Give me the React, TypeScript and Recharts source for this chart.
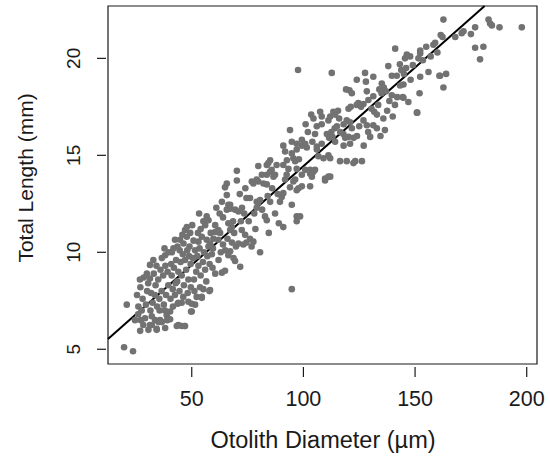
import React from 'react';
import {
  ScatterChart,
  Scatter,
  XAxis,
  YAxis,
  ReferenceLine,
  ReferenceArea,
} from 'recharts';

// [otolith diameter (um), total length (mm)]
const fish: [number, number][] = [
  // ~17-30 um
  [19.7, 5.1], [23.7, 4.9], [20.9, 7.3], [26.1, 7.2], [27.6, 7.0], [26.0, 6.8], [27.2, 6.5],
  [29.1, 6.6], [28.3, 6.25], [26.9, 5.95], [30.6, 6.0], [24.6, 6.5], [25.5, 7.8], [27.0, 8.2],
  [28.5, 8.7], [29.9, 8.9], [28.0, 7.6], [29.5, 7.3], [30.0, 8.0], [26.8, 8.6],
  // 30-40
  [32.1, 6.7], [33.6, 6.5], [35.1, 6.4], [31.3, 6.25], [34.3, 6.05], [38.1, 6.1], [35.8, 6.5],
  [32.1, 6.25], [34.3, 6.0], [36.6, 6.4], [38.8, 6.75], [31.3, 8.65], [32.8, 9.6], [31.3, 9.35],
  [36.6, 9.7], [38.1, 9.85], [33.0, 8.9], [31.5, 7.0], [32.5, 7.4], [33.5, 7.8], [34.5, 7.2],
  [35.5, 7.6], [36.5, 8.0], [37.5, 7.3], [38.5, 7.8], [39.5, 8.3], [33.8, 8.3], [35.0, 8.6],
  [36.0, 9.1], [37.2, 8.8], [38.2, 9.3], [39.2, 9.0], [34.2, 9.3], [37.8, 10.2], [39.6, 10.0],
  [31.8, 7.9], [30.5, 8.4], [35.6, 7.0], [38.0, 7.0], [39.0, 6.5],
  // 40-50
  [40.3, 6.55], [40.3, 6.95], [44.0, 6.25], [45.5, 6.2], [47.0, 6.2], [43.3, 6.2], [46.7, 6.2],
  [43.7, 7.35], [45.5, 7.4], [44.0, 7.4], [41.8, 10.2], [41.1, 10.0], [42.5, 10.65], [44.8, 10.65],
  [46.3, 10.45], [47.8, 11.3], [47.0, 11.15], [49.3, 11.0], [47.8, 10.8], [40.5, 7.6], [41.5, 8.1],
  [42.5, 7.8], [43.5, 8.5], [44.5, 8.0], [45.5, 8.8], [46.5, 8.3], [47.5, 9.1], [48.5, 8.6],
  [49.5, 9.4], [41.0, 8.8], [42.0, 9.2], [43.0, 9.6], [44.0, 9.0], [45.0, 9.5], [46.0, 9.9],
  [47.0, 9.6], [48.0, 10.1], [49.0, 10.3], [40.8, 9.4], [42.8, 8.4], [44.6, 10.1], [46.2, 7.7],
  [48.2, 7.9], [49.6, 8.2], [45.8, 10.9], [43.6, 10.3], [41.6, 7.2], [48.8, 9.8],
  // 50-60
  [48.5, 7.45], [50.0, 7.35], [51.5, 7.3], [50.0, 6.95], [49.7, 6.95], [53.7, 8.2], [55.2, 8.1],
  [54.5, 7.7], [57.9, 8.0], [54.5, 7.65], [56.7, 11.85], [57.5, 11.65], [56.0, 11.6], [55.2, 11.6],
  [56.7, 11.65], [56.0, 11.4], [54.5, 10.8], [56.7, 10.65], [53.0, 10.55], [58.2, 10.45],
  [59.7, 10.7], [58.2, 8.05], [51.0, 8.6], [52.0, 9.0], [53.0, 9.3], [54.0, 8.8], [55.0, 9.5],
  [56.0, 9.1], [57.0, 9.8], [58.0, 9.4], [59.0, 9.9], [50.5, 9.7], [51.5, 10.1], [52.5, 9.8],
  [53.5, 10.2], [55.5, 10.0], [57.5, 10.3], [59.5, 10.2], [50.8, 10.6], [52.8, 11.0], [54.0, 11.2],
  [58.5, 11.0], [51.2, 8.0], [52.2, 7.7], [56.5, 8.5], [59.3, 9.2], [60.5, 8.9], [50.2, 11.4],
  [53.3, 12.0],
  // 60-70
  [61.2, 11.05], [62.7, 11.0], [60.5, 11.4], [61.9, 11.15], [60.5, 11.05], [66.4, 11.5],
  [67.9, 11.3], [67.2, 11.15], [61.9, 10.65], [65.7, 12.2], [67.2, 12.45], [66.4, 12.45],
  [67.2, 12.25], [69.4, 12.2], [65.7, 13.55], [64.9, 13.35], [65.7, 12.95], [67.2, 10.05],
  [66.4, 9.85], [68.7, 9.7], [69.4, 9.55], [63.5, 8.95], [64.9, 9.05], [62.0, 9.6], [63.0, 10.0],
  [64.0, 10.4], [65.0, 10.1], [66.0, 10.7], [68.0, 10.5], [69.0, 11.0], [62.5, 12.0], [64.0, 11.8],
  [63.5, 12.6], [61.0, 12.3], [68.5, 11.6], [69.8, 10.3],
  // 70-80
  [70.9, 12.1], [70.2, 14.2], [70.2, 13.7], [71.7, 9.25], [72.4, 11.15], [73.9, 10.9], [76.1, 10.7],
  [77.6, 10.55], [70.9, 10.45], [73.1, 10.4], [74.5, 10.5], [76.8, 10.3], [72.5, 12.3], [73.5, 12.0],
  [74.5, 12.8], [75.5, 11.6], [76.1, 12.8], [77.6, 13.55], [76.9, 13.65], [79.1, 13.75], [79.1, 12.6],
  [79.7, 12.55], [79.1, 12.3], [78.0, 12.0], [79.8, 14.45], [79.8, 13.65], [71.5, 13.0],
  [74.0, 13.3], [78.5, 11.2], [72.0, 11.6],
  // 80-90
  [80.6, 12.7], [80.6, 10.0], [82.1, 13.55], [85.1, 12.6], [82.8, 11.85], [83.6, 11.65], [87.3, 12.0],
  [83.6, 14.5], [85.8, 14.25], [83.6, 14.0], [87.3, 14.0], [85.1, 14.75], [84.3, 14.6], [81.4, 14.0],
  [85.1, 14.15], [86.6, 13.9], [83.6, 13.5], [88.5, 13.0], [89.5, 12.6], [81.5, 12.2], [84.0, 12.9],
  [86.0, 13.3], [88.0, 14.5], [89.0, 11.5], [84.5, 11.0],
  // 90-100
  [91.0, 14.5], [90.3, 12.85], [91.0, 13.05], [94.8, 12.45], [91.0, 11.3], [97.0, 11.85], [97.0, 11.6],
  [97.8, 13.3], [97.0, 13.2], [94.0, 16.3], [99.3, 15.8], [97.0, 15.6], [99.3, 15.5], [94.8, 15.7],
  [97.0, 15.3], [91.0, 15.5], [91.8, 15.2], [94.8, 15.1], [92.6, 14.75], [95.5, 14.85], [96.3, 14.7],
  [97.0, 14.3], [93.3, 14.3], [99.3, 14.0], [91.8, 13.75], [95.5, 13.65], [96.3, 13.75], [94.0, 13.35],
  [99.3, 13.4], [94.8, 8.1], [98.5, 11.85], [97.6, 19.4], [92.5, 14.0], [98.0, 14.8],
  // 100-110
  [100.8, 15.6], [101.5, 15.4], [106.0, 15.3], [106.7, 14.95], [100.8, 14.25], [103.0, 14.25],
  [105.2, 14.25], [103.0, 13.4], [109.7, 13.8], [109.7, 13.7], [104.5, 14.15], [103.0, 14.05],
  [103.8, 13.9], [109.0, 14.85], [106.0, 15.45], [107.5, 17.25], [108.2, 17.0], [104.5, 16.9],
  [106.0, 16.5], [108.2, 16.6], [105.2, 16.1], [108.2, 15.6], [102.0, 16.2], [104.0, 15.7],
  [101.0, 16.6], [103.5, 17.1],
  // 110-120
  [111.2, 15.0], [112.0, 14.85], [111.2, 13.9], [112.0, 13.9], [116.4, 14.7], [119.4, 14.7],
  [112.7, 19.25], [113.4, 17.25], [114.2, 17.1], [112.0, 17.0], [111.2, 16.8], [110.5, 16.1],
  [111.5, 15.9], [112.5, 16.2], [113.0, 15.95], [117.9, 16.1], [118.7, 15.9], [114.2, 15.7],
  [119.4, 16.8], [115.0, 16.5], [116.0, 16.9], [114.0, 16.4], [116.5, 16.2], [118.0, 15.5],
  [119.1, 18.4], [120.2, 17.4], [120.2, 15.95], [118.0, 16.6], [115.5, 17.3],
  // 120-130
  [120.6, 18.35], [121.7, 18.2], [123.9, 18.9], [128.0, 18.8], [128.4, 18.3], [124.6, 17.7],
  [126.9, 17.65], [121.2, 17.5], [129.1, 17.85], [123.9, 17.6], [125.8, 17.5], [120.9, 16.7],
  [126.9, 16.8], [128.4, 16.55], [121.7, 16.4], [129.9, 15.95], [120.9, 15.6], [122.4, 14.6],
  [123.2, 14.7], [126.2, 14.7], [127.6, 19.25], [124.0, 16.0], [122.5, 15.9], [127.0, 15.5],
  [129.0, 16.2], [125.0, 16.5],
  // 130-140
  [131.3, 19.05], [135.1, 18.7], [131.3, 18.05], [134.0, 18.4], [135.0, 18.2], [136.0, 18.5],
  [137.0, 18.3], [131.7, 17.25], [132.9, 17.1], [131.3, 16.55], [135.8, 16.9], [132.9, 16.4],
  [138.0, 19.6], [139.6, 19.1], [139.6, 18.1], [140.0, 17.0], [133.5, 17.6], [137.5, 17.3],
  [134.5, 16.0], [136.5, 16.3], [138.5, 17.8], [130.5, 17.4],
  // 140-150
  [141.1, 20.5], [141.8, 19.1], [143.3, 18.6], [144.5, 18.0], [147.0, 17.75], [146.3, 20.2],
  [147.8, 20.1], [145.5, 20.0], [143.2, 19.7], [143.8, 19.4], [145.0, 19.2], [144.8, 18.65],
  [144.8, 17.97], [149.0, 19.65], [150.8, 17.2], [142.0, 18.0], [148.0, 18.9], [146.0, 19.5],
  [141.0, 17.6],
  // 150-165
  [152.3, 20.25], [151.5, 20.0], [153.5, 19.9], [152.3, 19.05], [152.0, 18.2], [151.0, 17.2],
  [152.3, 20.4], [158.2, 20.7], [159.0, 20.8], [160.0, 20.3], [161.2, 19.1], [163.9, 19.2],
  [160.9, 19.1], [162.7, 18.5], [162.7, 22.0], [161.5, 21.2], [162.3, 21.1], [155.0, 20.6],
  [157.0, 20.1], [156.0, 19.3],
  // 165+
  [168.0, 21.1], [170.9, 21.3], [171.7, 21.4], [175.0, 21.25], [176.9, 21.6], [176.9, 20.55],
  [180.6, 20.6], [179.1, 19.95], [182.9, 22.0], [183.6, 21.8], [184.4, 21.7], [187.8, 21.6],
  [197.8, 21.6],
];

const xTicks = [50, 100, 150, 200];
const yTicks = [5, 10, 15, 20];
const xDomain = [12.5, 204.6];
const yDomain = [4.24, 22.7];

// fitted regression line: length = a + b * diameter
const fitIntercept = 4.26;
const fitSlope = 0.1018;

const data = fish.map(([x, y]) => ({ x, y }));

const font = '"Liberation Sans", Arial, sans-serif';
const ink = '#1a1a1a';

const XTick = (props: any) => {
  const { x, y, payload } = props;
  return (
    <g>
      <line x1={x} x2={x} y1={y + 3} y2={y + 13} stroke={ink} strokeWidth={1.2} />
      <text x={x} y={y + 42} textAnchor='middle' fontSize={21.5} fontFamily={font} fill={ink}>
        {payload.value}
      </text>
    </g>
  );
};

const YTick = (props: any) => {
  const { x, y, payload } = props;
  return (
    <g>
      <line x1={x - 11} x2={x - 2} y1={y} y2={y} stroke={ink} strokeWidth={1.2} />
      <text
        x={x - 28}
        y={y}
        transform={`rotate(-90 ${x - 28} ${y})`}
        textAnchor='middle'
        fontSize={19}
        fontFamily={font}
        fill={ink}
      >
        {payload.value}
      </text>
    </g>
  );
};

const Dot = (props: any) => <circle cx={props.cx} cy={props.cy} r={3.3} fill='#727272' />;

const App = () => {
  const lineEndX = (yDomain[1] - fitIntercept) / fitSlope;
  return (
    <div style={{ position: 'absolute', left: 0, top: 0, background: '#fff' }}>
      <ScatterChart width={550} height={460} margin={{ top: 6, right: 13, bottom: 0, left: 0 }}>
        <XAxis
          type='number'
          dataKey='x'
          domain={xDomain}
          ticks={xTicks}
          allowDataOverflow
          axisLine={false}
          tickLine={false}
          tickSize={0}
          tickMargin={0}
          height={96}
          tick={<XTick />}
        />
        <YAxis
          type='number'
          dataKey='y'
          domain={yDomain}
          ticks={yTicks}
          allowDataOverflow
          axisLine={false}
          tickLine={false}
          tickSize={0}
          tickMargin={0}
          width={108}
          tick={<YTick />}
        />
        <Scatter data={data} shape={<Dot />} isAnimationActive={false} />
        <ReferenceLine
          segment={[
            { x: xDomain[0], y: fitIntercept + fitSlope * xDomain[0] },
            { x: lineEndX, y: yDomain[1] },
          ]}
          stroke='#000'
          strokeWidth={2}
          ifOverflow='visible'
        />
        <ReferenceArea
          x1={xDomain[0]}
          x2={xDomain[1]}
          y1={yDomain[0]}
          y2={yDomain[1]}
          fill='none'
          fillOpacity={0}
          stroke={ink}
          strokeWidth={1.2}
          ifOverflow='visible'
        />
        <text x={323} y={448} textAnchor='middle' fontSize={23.5} fontFamily={font} fill={ink}>
          Otolith Diameter (µm)
        </text>
        <text
          x={33}
          y={178}
          transform='rotate(-90 33 178)'
          textAnchor='middle'
          fontSize={21}
          fontFamily={font}
          fill={ink}
        >
          Total Length (mm)
        </text>
      </ScatterChart>
    </div>
  );
};

export default App;
